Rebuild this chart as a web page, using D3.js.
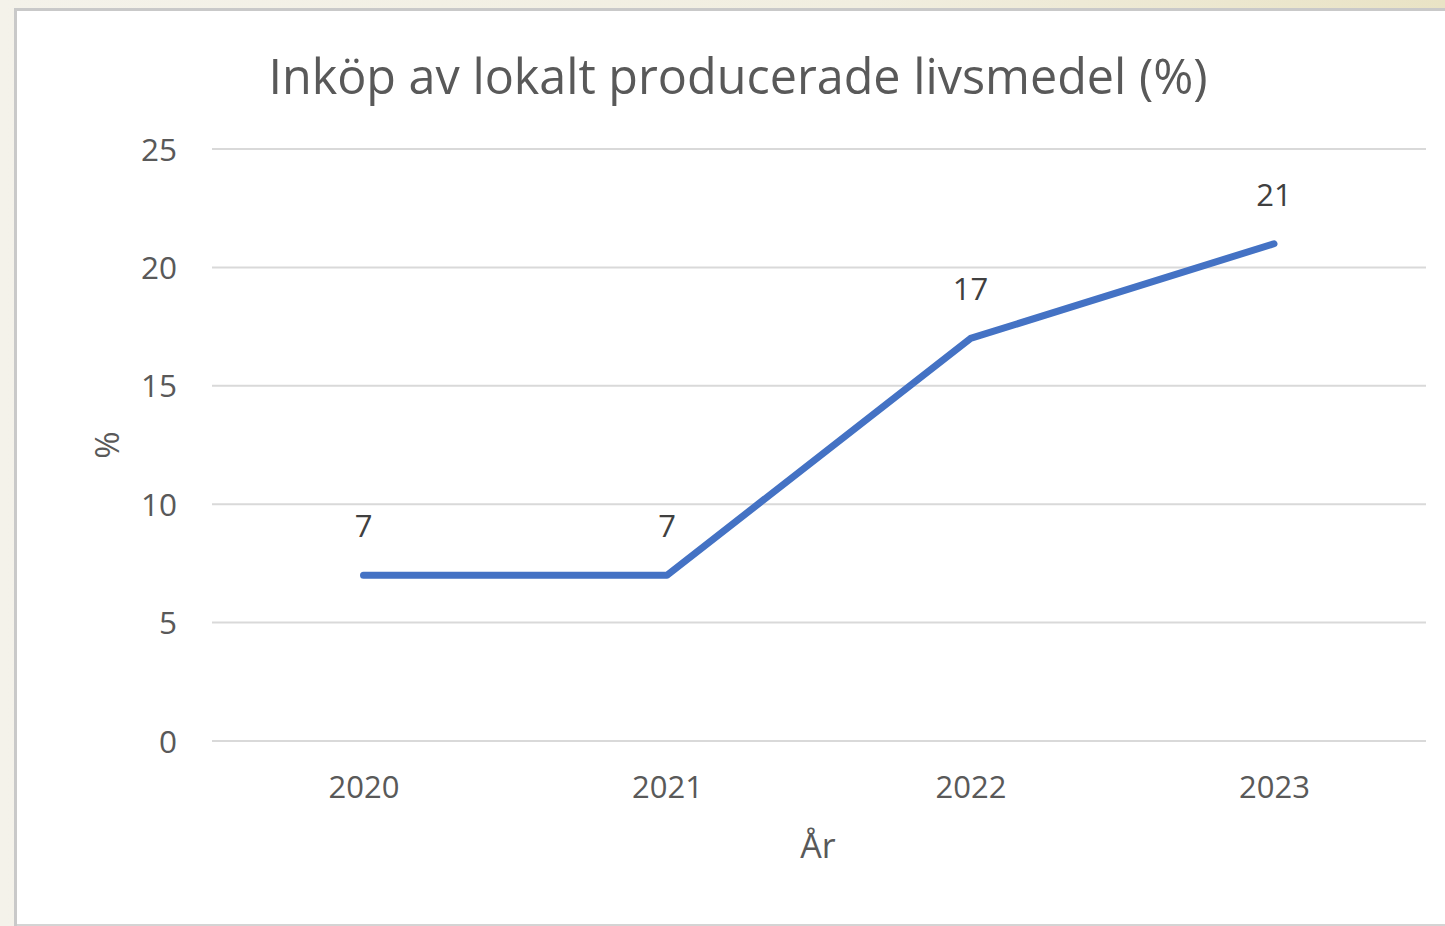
<!DOCTYPE html>
<html><head><meta charset="utf-8">
<script src="https://cdn.jsdelivr.net/npm/d3@7"></script>
<style>
html,body{margin:0;padding:0;}
body{width:1445px;height:926px;overflow:hidden;background:linear-gradient(90deg,#f4f2ea 0%,#f1eee0 60%,#e9e3c5 100%);}
</style></head>
<body>
<svg id="c" width="1445" height="926"></svg>
<script>
const years = ["2020","2021","2022","2023"];
const values = [7, 7, 17, 21];
const yTicks = [0, 5, 10, 15, 20, 25];
const title = "Inköp av lokalt producerade livsmedel (%)";
const xTitle = "År";
const yTitle = "%";

const svg = d3.select("#c");
const font = "'Open Sans', 'Noto Sans', sans-serif";

// panel with shadow
svg.append("rect").attr("x",14).attr("y",8).attr("width",1445).attr("height",930).attr("fill","#c9c9c9");
svg.append("rect").attr("x",17).attr("y",11).attr("width",1445).attr("height",913).attr("fill","#ffffff");
svg.append("line").attr("x1",17).attr("x2",1445).attr("y1",925).attr("y2",925).attr("stroke","#d4d4d4").attr("stroke-width",2);

const x = d3.scalePoint().domain(years).range([363.5, 1274]);
const y = d3.scaleLinear().domain([0,25]).range([741,149]);

// gridlines
svg.append("g").selectAll("line").data(yTicks).join("line")
  .attr("x1",212).attr("x2",1426)
  .attr("y1",d=>y(d)).attr("y2",d=>y(d))
  .attr("stroke","#d9d9d9").attr("stroke-width",2);

// y axis labels
const yAxis = d3.axisLeft(y).tickValues(yTicks).tickSize(0).tickPadding(0);
const gy = svg.append("g").attr("transform","translate(177,0)").call(yAxis);
gy.select(".domain").remove();
gy.selectAll("text").attr("font-family",font).attr("font-size",31.5).attr("fill","#595959").attr("dy","0.35em");

// x axis labels
const xAxis = d3.axisBottom(x).tickSize(0).tickPadding(0);
const gx = svg.append("g").attr("transform","translate(0,787)").call(xAxis);
gx.select(".domain").remove();
gx.selectAll("text").attr("font-family",font).attr("font-size",31).attr("fill","#595959").attr("dy","0.35em");

// line
const line = d3.line().x((d,i)=>x(years[i])).y(d=>y(d));
svg.append("path").datum(values).attr("d",line)
  .attr("fill","none").attr("stroke","#4472c4").attr("stroke-width",7)
  .attr("stroke-linecap","round").attr("stroke-linejoin","round");

// data labels
svg.append("g").selectAll("text").data(values).join("text")
  .attr("x",(d,i)=>x(years[i])).attr("y",d=>y(d)-49)
  .attr("text-anchor","middle").attr("dy","0.35em")
  .attr("font-family",font).attr("font-size",31).attr("fill","#404040")
  .text(d=>d);

// title
svg.append("text").attr("x",738).attr("y",77).attr("dy","0.35em")
  .attr("text-anchor","middle").attr("font-family",font).attr("font-size",48.5)
  .attr("fill","#595959").text(title);

// axis titles
svg.append("text").attr("x",818).attr("y",846).attr("dy","0.35em")
  .attr("text-anchor","middle").attr("font-family",font).attr("font-size",34)
  .attr("fill","#595959").text(xTitle);
svg.append("text").attr("transform","translate(107,445) rotate(-90)").attr("dy","0.35em")
  .attr("text-anchor","middle").attr("font-family",font).attr("font-size",33)
  .attr("fill","#595959").text(yTitle);
</script>
</body></html>
